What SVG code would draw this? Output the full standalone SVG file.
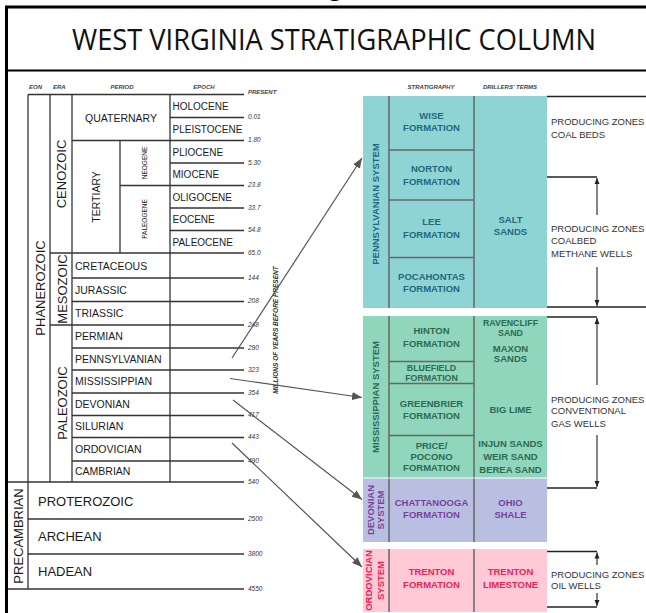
<svg xmlns="http://www.w3.org/2000/svg" width="646" height="613" viewBox="0 0 646 613">
<defs>
<marker id="ah" viewBox="0 0 10 8" refX="10" refY="4" markerWidth="10" markerHeight="8" orient="auto" markerUnits="userSpaceOnUse"><path d="M0,0 L10,4 L0,8 z" fill="#555"/></marker>
</defs>
<style>
.frame{stroke:#000;fill:none}
.gl{stroke:#333;stroke-width:1.3;fill:none}
.t{font-family:"Liberation Sans",Arial,sans-serif;fill:#1a1a1a}
.hd{font-family:"Liberation Sans",Arial,sans-serif;font-style:italic;font-weight:bold;font-size:6px;fill:#444}
.age{font-family:"Liberation Sans",Arial,sans-serif;font-style:italic;font-size:6.5px;fill:#333}
.ep{font-size:10px}
.pr{font-size:10.5px}
.era{font-size:13px}
.sm{font-size:6.5px}
.f{font-family:"Liberation Sans",Arial,sans-serif;font-weight:bold;font-size:9.5px;text-anchor:middle}
.fs{font-size:8.8px}
.sys{font-family:"Liberation Sans",Arial,sans-serif;font-weight:bold;font-size:9.5px;text-anchor:middle}
.dv{stroke:#666;stroke-width:1.5}
.note{font-family:"Liberation Sans",Arial,sans-serif;font-size:9.5px;fill:#333}
.br{stroke:#222;stroke-width:1.5;fill:none}
.bv{stroke:#333;stroke-width:1.2;fill:none}
.con{stroke:#555;stroke-width:1.2;fill:none}
</style>

<g id="frame">
<text x="329" y="-4" font-family="Open Sans, sans-serif" font-size="22" fill="#000">g</text>
<line class="frame" x1="5" y1="7" x2="646" y2="7" stroke-width="3"/>
<line class="frame" x1="6.5" y1="7" x2="6.5" y2="613" stroke-width="3"/>
<line class="frame" x1="5" y1="70.5" x2="646" y2="70.5" stroke-width="2.2"/>
</g>

<g id="title">
<text x="72" y="50" font-family="Open Sans, sans-serif" font-size="29" fill="#111" textLength="524" lengthAdjust="spacingAndGlyphs">WEST VIRGINIA STRATIGRAPHIC COLUMN</text>
</g>

<g id="time-scale">
<text class="hd" x="29" y="89">EON</text>
<text class="hd" x="53" y="89">ERA</text>
<text class="hd" x="122" y="89" text-anchor="middle">PERIOD</text>
<text class="hd" x="204" y="89" text-anchor="middle">EPOCH</text>
<text class="hd" x="248" y="94">PRESENT</text>

<line class="gl" x1="28" y1="94.5" x2="244" y2="94.5"/>
<line class="gl" x1="28" y1="94.5" x2="28" y2="589"/>
<line class="gl" x1="50" y1="94.5" x2="50" y2="482"/>
<line class="gl" x1="72" y1="94.5" x2="72" y2="482"/>
<line class="gl" x1="120" y1="140.5" x2="120" y2="253"/>
<line class="gl" x1="170" y1="94.5" x2="170" y2="482"/>
<line class="gl" x1="170" y1="117.5" x2="244" y2="117.5"/>
<line class="gl" x1="72" y1="140.5" x2="244" y2="140.5"/>
<line class="gl" x1="170" y1="163" x2="244" y2="163"/>
<line class="gl" x1="120" y1="185.5" x2="244" y2="185.5"/>
<line class="gl" x1="170" y1="208" x2="244" y2="208"/>
<line class="gl" x1="170" y1="230.5" x2="244" y2="230.5"/>
<line class="gl" x1="50" y1="253" x2="244" y2="253"/>
<line class="gl" x1="72" y1="278" x2="244" y2="278"/>
<line class="gl" x1="72" y1="301.5" x2="244" y2="301.5"/>
<line class="gl" x1="50" y1="325" x2="244" y2="325"/>
<line class="gl" x1="72" y1="348" x2="244" y2="348"/>
<line class="gl" x1="72" y1="370" x2="244" y2="370"/>
<line class="gl" x1="72" y1="393" x2="244" y2="393"/>
<line class="gl" x1="72" y1="415.5" x2="244" y2="415.5"/>
<line class="gl" x1="72" y1="437.5" x2="244" y2="437.5"/>
<line class="gl" x1="72" y1="461" x2="244" y2="461"/>
<line class="gl" x1="8" y1="482" x2="244" y2="482"/>
<line class="gl" x1="28" y1="519" x2="244" y2="519"/>
<line class="gl" x1="28" y1="554" x2="244" y2="554"/>
<line class="gl" x1="8" y1="589" x2="244" y2="589"/>

<text class="age" x="248" y="119">0.01</text>
<text class="age" x="248" y="142">1.80</text>
<text class="age" x="248" y="164.5">5.30</text>
<text class="age" x="248" y="187">23.8</text>
<text class="age" x="248" y="209.5">33.7</text>
<text class="age" x="248" y="232">54.8</text>
<text class="age" x="248" y="254.5">65.0</text>
<text class="age" x="248" y="279.5">144</text>
<text class="age" x="248" y="303">208</text>
<text class="age" x="248" y="326.5">248</text>
<text class="age" x="248" y="349.5">290</text>
<text class="age" x="248" y="371.5">323</text>
<text class="age" x="248" y="394.5">354</text>
<text class="age" x="248" y="417">417</text>
<text class="age" x="248" y="439">443</text>
<text class="age" x="248" y="462.5">490</text>
<text class="age" x="248" y="483.5">540</text>
<text class="age" x="248" y="520.5">2500</text>
<text class="age" x="248" y="555.5">3800</text>
<text class="age" x="248" y="590.5">4550</text>
<text class="age" transform="translate(277.5,330) rotate(-90)" text-anchor="middle" font-weight="bold">MILLIONS OF YEARS BEFORE PRESENT</text>

<text class="t ep" x="172.5" y="110">HOLOCENE</text>
<text class="t ep" x="172.5" y="133">PLEISTOCENE</text>
<text class="t ep" x="172.5" y="155.5">PLIOCENE</text>
<text class="t ep" x="172.5" y="178">MIOCENE</text>
<text class="t ep" x="172.5" y="200.5">OLIGOCENE</text>
<text class="t ep" x="172.5" y="223">EOCENE</text>
<text class="t ep" x="172.5" y="245.5">PALEOCENE</text>

<text class="t pr" x="121" y="121.5" text-anchor="middle">QUATERNARY</text>
<text class="t pr" transform="translate(99.8,197) rotate(-90)" text-anchor="middle">TERTIARY</text>
<text class="t sm" transform="translate(146.5,163) rotate(-90)" text-anchor="middle">NEOGENE</text>
<text class="t sm" transform="translate(146.5,219) rotate(-90)" text-anchor="middle">PALEOGENE</text>
<text class="t pr" x="75" y="270">CRETACEOUS</text>
<text class="t pr" x="75" y="293.5">JURASSIC</text>
<text class="t pr" x="75" y="317">TRIASSIC</text>
<text class="t pr" x="75" y="340">PERMIAN</text>
<text class="t pr" x="75" y="362.5">PENNSYLVANIAN</text>
<text class="t pr" x="75" y="385">MISSISSIPPIAN</text>
<text class="t pr" x="75" y="408">DEVONIAN</text>
<text class="t pr" x="75" y="430">SILURIAN</text>
<text class="t pr" x="75" y="453">ORDOVICIAN</text>
<text class="t pr" x="75" y="475">CAMBRIAN</text>

<text class="t era" transform="translate(65.7,174) rotate(-90)" text-anchor="middle">CENOZOIC</text>
<text class="t era" transform="translate(67,289) rotate(-90)" text-anchor="middle" font-size="12.5">MESOZOIC</text>
<text class="t era" transform="translate(67,403) rotate(-90)" text-anchor="middle" font-size="12.5">PALEOZOIC</text>
<text class="t era" transform="translate(44.7,288) rotate(-90)" text-anchor="middle">PHANEROZOIC</text>
<text class="t era" transform="translate(22.5,536) rotate(-90)" text-anchor="middle" font-size="13.5">PRECAMBRIAN</text>
<text class="t era" x="38" y="505.5">PROTEROZOIC</text>
<text class="t era" x="38" y="541">ARCHEAN</text>
<text class="t era" x="38" y="576">HADEAN</text>
</g>

<g id="headers">
<text class="hd" x="431" y="89" text-anchor="middle">STRATIGRAPHY</text>
<text class="hd" x="510" y="89" text-anchor="middle">DRILLERS' TERMS</text>
</g>

<g id="pennsylvanian-system" fill="#21687f">
<rect x="363" y="96" width="184" height="212" fill="#8fd4d4"/>
<line class="dv" x1="389" y1="96" x2="389" y2="308" stroke="#7a6a62"/>
<line class="dv" x1="474" y1="96" x2="474" y2="308"/>
<line class="dv" x1="389" y1="150" x2="474" y2="150" stroke="#7a6a62"/>
<line class="dv" x1="389" y1="200" x2="474" y2="200" stroke="#7a6a62"/>
<line class="dv" x1="389" y1="257.5" x2="474" y2="257.5" stroke="#7a6a62"/>
<text class="sys" transform="translate(379.3,204) rotate(-90)">PENNSYLVANIAN SYSTEM</text>
<text class="f" x="431.5" y="118.5">WISE</text>
<text class="f" x="431.5" y="131">FORMATION</text>
<text class="f" x="431.5" y="171.7">NORTON</text>
<text class="f" x="431.5" y="184.5">FORMATION</text>
<text class="f" x="431.5" y="225">LEE</text>
<text class="f" x="431.5" y="237.7">FORMATION</text>
<text class="f" x="431.5" y="280">POCAHONTAS</text>
<text class="f" x="431.5" y="291.7">FORMATION</text>
<text class="f" x="510.5" y="222.5">SALT</text>
<text class="f" x="510.5" y="234.5">SANDS</text>
</g>

<g id="mississippian-system" fill="#2d6a4f">
<rect x="363" y="316" width="184" height="161.5" fill="#8fd6bd"/>
<line class="dv" x1="389" y1="316" x2="389" y2="477.5"/>
<line class="dv" x1="474" y1="316" x2="474" y2="477.5"/>
<line class="dv" x1="389" y1="361.5" x2="474" y2="361.5"/>
<line class="dv" x1="389" y1="383.5" x2="474" y2="383.5"/>
<line class="dv" x1="389" y1="435.5" x2="474" y2="435.5"/>
<text class="sys" transform="translate(379.3,397) rotate(-90)">MISSISSIPPIAN SYSTEM</text>
<text class="f" x="431.5" y="334">HINTON</text>
<text class="f" x="431.5" y="346.7">FORMATION</text>
<text class="f fs" x="431.5" y="371">BLUEFIELD</text>
<text class="f fs" x="431.5" y="381">FORMATION</text>
<text class="f" x="431.5" y="406.7">GREENBRIER</text>
<text class="f" x="431.5" y="419.4">FORMATION</text>
<text class="f" x="431.5" y="449.4">PRICE/</text>
<text class="f" x="431.5" y="460">POCONO</text>
<text class="f" x="431.5" y="470.5">FORMATION</text>
<text class="f fs" x="510.5" y="326">RAVENCLIFF</text>
<text class="f fs" x="510.5" y="336">SAND</text>
<text class="f" x="510.5" y="351.7">MAXON</text>
<text class="f" x="510.5" y="361.7">SANDS</text>
<text class="f" x="510.5" y="413.4">BIG LIME</text>
<text class="f" x="510.5" y="447.4">INJUN SANDS</text>
<text class="f" x="510.5" y="460">WEIR SAND</text>
<text class="f" x="510.5" y="472.7">BEREA SAND</text>
</g>

<g id="devonian-system" fill="#7b3fa0">
<rect x="363" y="478.5" width="184" height="63.5" fill="#b9bfe0"/>
<line class="dv" x1="389" y1="478.5" x2="389" y2="542"/>
<line class="dv" x1="474" y1="478.5" x2="474" y2="542"/>
<text class="sys" transform="translate(373.5,510) rotate(-90)">DEVONIAN</text>
<text class="sys" transform="translate(383.5,510) rotate(-90)">SYSTEM</text>
<text class="f" x="431.5" y="506">CHATTANOOGA</text>
<text class="f" x="431.5" y="517.7">FORMATION</text>
<text class="f" x="510.5" y="506">OHIO</text>
<text class="f" x="510.5" y="517.7">SHALE</text>
</g>

<g id="ordovician-system" fill="#e8245c">
<rect x="363" y="549" width="184" height="63" fill="#ffc9d5"/>
<line class="dv" x1="389" y1="549" x2="389" y2="612"/>
<line class="dv" x1="474" y1="549" x2="474" y2="612"/>
<text class="sys" transform="translate(372,580.5) rotate(-90)">ORDOVICIAN</text>
<text class="sys" transform="translate(383.5,580.5) rotate(-90)">SYSTEM</text>
<text class="f" x="431.5" y="575">TRENTON</text>
<text class="f" x="431.5" y="587.7">FORMATION</text>
<text class="f" x="510.5" y="575">TRENTON</text>
<text class="f" x="510.5" y="587.7">LIMESTONE</text>
</g>

<g id="producing-zones">
<line class="br" x1="547" y1="96.5" x2="646" y2="96.5"/>
<text class="note" x="551" y="125">PRODUCING ZONES</text>
<text class="note" x="551" y="137.7">COAL BEDS</text>
<line class="br" x1="547" y1="177" x2="597" y2="177"/>
<line class="bv" x1="597" y1="215" x2="597" y2="178"/>
<line class="bv" x1="597" y1="267" x2="597" y2="306"/>
<line class="br" x1="547" y1="307" x2="646" y2="307"/>
<text class="note" x="551" y="231.7">PRODUCING ZONES</text>
<text class="note" x="551" y="244">COALBED</text>
<text class="note" x="551" y="256.7">METHANE WELLS</text>

<line class="br" x1="547" y1="317" x2="597" y2="317"/>
<line class="bv" x1="597" y1="385" x2="597" y2="318"/>
<line class="bv" x1="597" y1="435" x2="597" y2="487"/>
<line class="br" x1="547" y1="488" x2="597" y2="488"/>
<text class="note" x="551" y="403.4">PRODUCING ZONES</text>
<text class="note" x="551" y="414.4">CONVENTIONAL</text>
<text class="note" x="551" y="426.7">GAS WELLS</text>

<line class="br" x1="547" y1="551.5" x2="597" y2="551.5"/>
<line class="bv" x1="597" y1="565" x2="597" y2="552.5"/>
<line class="bv" x1="597" y1="593" x2="597" y2="606"/>
<line class="br" x1="547" y1="607" x2="597" y2="607"/>
<text class="note" x="551" y="578.4">PRODUCING ZONES</text>
<text class="note" x="551" y="589.4">OIL WELLS</text>
</g>
<g id="bracket-arrowheads" fill="#222">
<path d="M597,178 L594.5,184 L599.5,184 z"/>
<path d="M597,306 L594.5,300 L599.5,300 z"/>
<path d="M597,318 L594.5,324 L599.5,324 z"/>
<path d="M597,487 L594.5,481 L599.5,481 z"/>
<path d="M597,552.5 L594.5,558.5 L599.5,558.5 z"/>
<path d="M597,606 L594.5,600 L599.5,600 z"/>
</g>

<g id="connectors">
<line class="con" x1="232" y1="358" x2="362" y2="158" marker-end="url(#ah)"/>
<line class="con" x1="230" y1="378.5" x2="362" y2="397.5" marker-end="url(#ah)"/>
<line class="con" x1="233" y1="400" x2="362" y2="499.5" marker-end="url(#ah)"/>
<line class="con" x1="232" y1="443" x2="362" y2="567" marker-end="url(#ah)"/>
</g>
</svg>
